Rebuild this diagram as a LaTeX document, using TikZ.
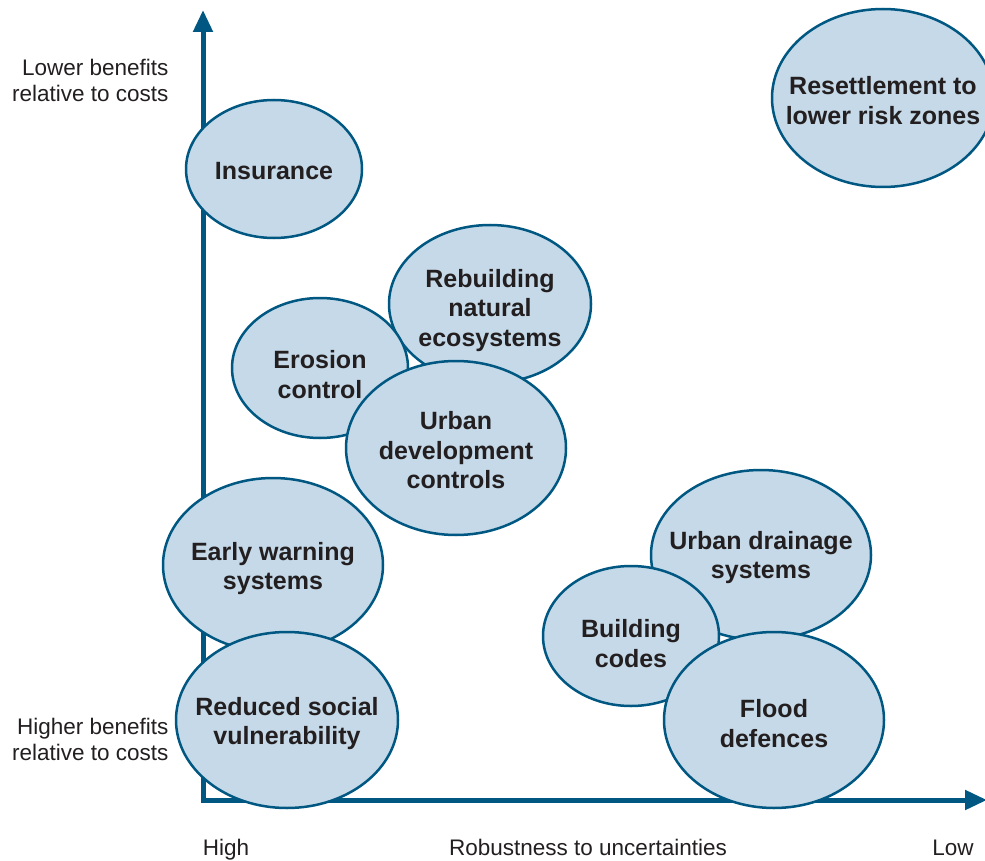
\documentclass[tikz,border=0pt]{standalone}
\usepackage{fontspec}
\setmainfont{Liberation Sans}
\usepackage{tikz}
\usetikzlibrary{shapes,positioning,arrows.meta}

\definecolor{axisblue}{RGB}{0,88,130}
\definecolor{optfill}{RGB}{197,217,232}
\definecolor{txtgray}{RGB}{35,31,32}

\tikzset{
  option/.style={ellipse, draw=axisblue, fill=optfill, line width=2.5pt, inner sep=0pt},
  optlabel/.style={align=center, text=txtgray, yshift=-2.5pt, font=\fontsize{25}{29.5}\selectfont\bfseries},
  axlabel/.style={align=right, text=txtgray, font=\fontsize{22.5}{26}\selectfont},
  axtext/.style={text=txtgray, anchor=base, inner sep=0pt, font=\fontsize{22.5}{26}\selectfont}
}

\begin{document}
\begin{tikzpicture}[x=1pt,y=-1pt]
    \useasboundingbox (0,0) rectangle (985,861);
    % axes
    \coordinate (top)    at (203,10);
    \coordinate (origin) at (203,800);
    \coordinate (right)  at (987,800);
    \draw[axisblue, line width=5pt, line join=miter,
          {Triangle[length=22pt,width=19pt]}-{Triangle[length=22pt,width=19pt]}]
      (top) -- (origin) -- (right);

    % options
    \node[option, minimum width=176pt, minimum height=138pt] (ins) at (274,169) {};
    \node[optlabel] at (ins) {Insurance};
    \node[option, minimum width=222pt, minimum height=178pt] (res) at (883,98) {};
    \node[optlabel] at (res) {Resettlement to\\lower risk zones};
    \node[option, minimum width=202pt, minimum height=158pt] (eco) at (490,304) {};
    \node[optlabel] at (490,308) {Rebuilding\\natural\\ecosystems};
    \node[option, minimum width=176pt, minimum height=140pt] (ero) at (320,368) {};
    \node[optlabel] at (320,372) {Erosion\\control};
    \node[option, minimum width=220pt, minimum height=174pt] (udc) at (456,448) {};
    \node[optlabel] at (udc) {Urban\\development\\controls};
    \node[option, minimum width=220pt, minimum height=174pt] (ews) at (273,565) {};
    \node[optlabel] at (273,566) {Early warning\\systems};
    \node[option, minimum width=222pt, minimum height=176pt] (rsv) at (287,720) {};
    \node[optlabel] at (287,721) {Reduced social\\vulnerability};
    \node[option, minimum width=220pt, minimum height=170pt] (uds) at (761,555) {};
    \node[optlabel] at (uds) {Urban drainage\\systems};
    \node[option, minimum width=176pt, minimum height=140pt] (bc) at (631,636) {};
    \node[optlabel] at (631,641) {Building\\codes};
    \node[option, minimum width=220pt, minimum height=176pt] (fd) at (774,720) {};
    \node[optlabel] at (774,721) {Flood\\defences};

    % axis labels
    \node[axlabel, anchor=east] (lower)  at (172,80)  {Lower benefits\\relative to costs};
    \node[axlabel, anchor=east] (higher) at (172,739) {Higher benefits\\relative to costs};
    \node[axtext] (high) at (226,855) {High};
    \node[axtext] (rob)  at (588,855) {Robustness to uncertainties};
    \node[axtext] (low)  at (953,855) {Low};
\end{tikzpicture}
\end{document}
